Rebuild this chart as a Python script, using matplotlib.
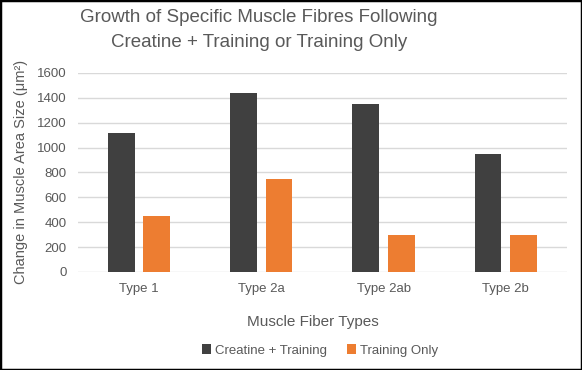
import matplotlib.pyplot as plt
import numpy as np
from matplotlib.patches import Rectangle

fiber_types = ['Type 1', 'Type 2a', 'Type 2ab', 'Type 2b']
creatine_training = [1120, 1440, 1350, 950]
training_only = [450, 750, 295, 300]

plt.rcParams['font.family'] = ['Liberation Sans', 'DejaVu Sans']
text_col = '#595959'

fig = plt.figure(figsize=(5.82, 3.70), dpi=100)
ax = fig.add_axes([0.134, 0.265, 0.84, 0.538])

x = np.arange(len(fiber_types))
w = 0.22
off = 0.145
ax.bar(x - off, creatine_training, w, color='#404040', label='Creatine + Training', zorder=3)
ax.bar(x + off, training_only, w, color='#ED7D31', label='Training Only', zorder=3)

ax.set_xlim(-0.5, 3.5)
ax.set_ylim(0, 1600)
ax.set_yticks(range(0, 1601, 200))
ax.set_xticks(x)
ax.set_xticklabels(fiber_types)
ax.grid(axis='y', color='#d9d9d9', linewidth=1, zorder=0)
for s in ax.spines.values():
    s.set_visible(False)
ax.tick_params(length=0, colors=text_col, labelsize=9.5)
ax.tick_params(axis='y', pad=8)
ax.tick_params(axis='x', pad=8)

ax.set_xlabel('Muscle Fiber Types', fontsize=11, color=text_col)
ax.xaxis.set_label_coords(0.48, -0.215)
ax.set_ylabel('Change in Muscle Area Size (μm²)', fontsize=10.5, color=text_col)
ax.yaxis.set_label_coords(-0.103, 0.5)

fig.text(0.445, 0.952, 'Growth of Specific Muscle Fibres Following', ha='center', va='center',
         fontsize=13.5, color=text_col)
fig.text(0.445, 0.884, 'Creatine + Training or Training Only', ha='center', va='center',
         fontsize=13.5, color=text_col)

fig.legend(loc='center', bbox_to_anchor=(0.55, 0.053), ncol=2, frameon=False,
           fontsize=9.5, handlelength=0.7, handleheight=0.7, handletextpad=0.3,
           columnspacing=1.5, labelcolor=text_col)

fig.patches.append(Rectangle((0, 0), 1, 1, transform=fig.transFigure, fill=False,
                             edgecolor='black', linewidth=2.5))

plt.savefig('out.png', dpi=100)
